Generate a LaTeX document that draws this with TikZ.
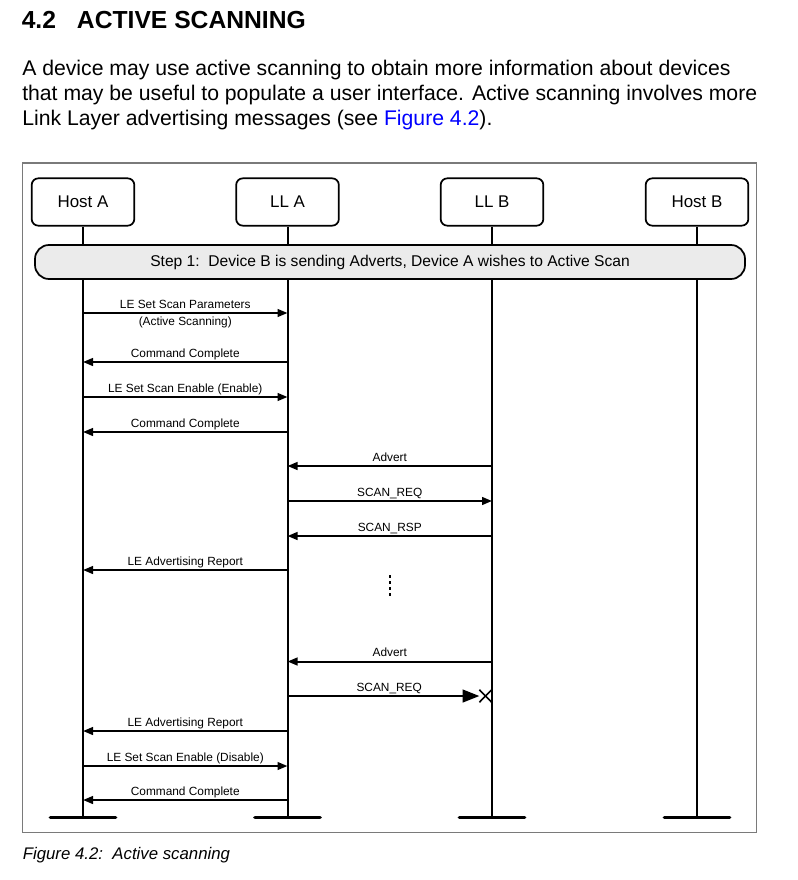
\documentclass[tikz,border=0pt]{standalone}
\usepackage{fontspec}
\setmainfont{Liberation Sans}
\usetikzlibrary{arrows.meta}
\definecolor{framegray}{HTML}{7A7A7A}
\definecolor{stepfill}{HTML}{EBEBEB}
\definecolor{linkblue}{HTML}{0000FF}
% one message between two lifelines: from, to, y, label
\newcommand\seqmsg[4]{%
  \draw[msgline] (#1 |- 0,#3) -- (#2 |- 0,#3)
    node[msglabel,midway,yshift=3.4pt] {#4};}
\begin{document}
\begin{tikzpicture}[x=0.75pt,y=-0.75pt,
  txt/.style={inner sep=0pt,anchor=base west},
  bodytext/.style={txt,font=\fontsize{15.9}{19}\selectfont},
  actor/.style={draw,line width=1.3pt,rounded corners=5pt,fill=white,
    minimum width=77pt,minimum height=35.5pt,inner sep=0pt,
    font=\fontsize{12.7}{15}\selectfont},
  life/.style={line width=1.5pt},
  endbar/.style={line width=2.6pt,line cap=round},
  msgline/.style={line width=1.5pt,-{Triangle[length=7.5pt,width=5.8pt]}},
  lostline/.style={line width=1.5pt,-{Triangle[length=12.5pt,width=9.5pt]}},
  msglabel/.style={font=\fontsize{8.9}{10}\selectfont,inner sep=0pt,anchor=base},
  stepbox/.style={draw,line width=1.3pt,rounded corners=10.5pt,fill=stepfill,
    minimum width=532.5pt,minimum height=25.5pt,inner sep=0pt,
    font=\fontsize{11.7}{14}\selectfont},
  ]
\useasboundingbox (0,0) rectangle (798,880);

% heading and paragraph
\node[txt,font=\bfseries\fontsize{18.5}{22}\selectfont] (secnum) at (21.5,28.3) {4.2};
\node[txt,font=\bfseries\fontsize{18.5}{22}\selectfont] (sectitle) at (76.7,28.3) {ACTIVE SCANNING};
\node[bodytext] (para1) at (22,76)
  {A device may use active scanning to obtain more information about devices};
\node[bodytext] (para2) at (22,101)
  {that may be useful to populate a user interface. Active scanning involves more};
\node[bodytext] (para3) at (22,126)
  {Link Layer advertising messages (see \textcolor{linkblue}{Figure 4.2}).};

% figure frame
\draw[framegray,line width=1.1pt] (22.5,163) rectangle (756.5,832.5);

% participants
\node[actor] (hA) at (83,202) {Host A};
\node[actor] (lA) at (287.5,202) {LL A};
\node[actor] (lB) at (492,202) {LL B};
\node[actor] (hB) at (697,202) {Host B};

% lifelines and their end bars
\foreach \p in {hA,lA,lB,hB}{
  \coordinate (\p end) at (\p |- 0,817.5);
  \draw[life] (\p.south) -- (\p end);
  \draw[endbar] ([xshift=-24.5pt]\p end) -- ([xshift=24.5pt]\p end);
}

% step banner
\node[stepbox] (step) at (390,262) {Step 1:\ \ Device B is sending Adverts, Device A wishes to Active Scan};

% messages
\draw[msgline] (hA |- 0,313) -- (lA |- 0,313)
  node[msglabel,midway,yshift=3.4pt] {LE Set Scan Parameters}
  node[msglabel,midway,yshift=-9.5pt] {(Active Scanning)};
\seqmsg{lA}{hA}{362}{Command Complete}
\seqmsg{hA}{lA}{397}{LE Set Scan Enable (Enable)}
\seqmsg{lA}{hA}{432}{Command Complete}
\seqmsg{lB}{lA}{466}{Advert}
\seqmsg{lA}{lB}{501}{SCAN\_REQ}
\seqmsg{lB}{lA}{536}{SCAN\_RSP}
\seqmsg{lA}{hA}{570}{LE Advertising Report}

% continuation dots
\coordinate (gaptop) at (390,575);
\coordinate (gapbot) at (390,598);
\draw[line width=1.5pt,dash pattern=on 2.3pt off 2.2pt] (gaptop) -- (gapbot);

\seqmsg{lB}{lA}{661.5}{Advert}

% lost scan request
\coordinate (lost) at (485.5,696);
\draw[lostline] (lA |- 0,696) -- ([xshift=-4.6pt]lost)
  node[msglabel,pos=0.53,yshift=3.4pt] {SCAN\_REQ};
\draw[line width=1.2pt] ([shift={(-4.6pt,-4.7pt)}]lost) -- ([shift={(4.6pt,4.7pt)}]lost);
\draw[line width=1.2pt] ([shift={(-4.6pt,4.7pt)}]lost) -- ([shift={(4.6pt,-4.7pt)}]lost);

\seqmsg{lA}{hA}{731}{LE Advertising Report}
\seqmsg{hA}{lA}{766}{LE Set Scan Enable (Disable)}
\seqmsg{lA}{hA}{800}{Command Complete}

% caption
\node[txt,font=\itshape\fontsize{12.6}{15}\selectfont] (caption) at (22.5,859)
  {Figure 4.2:\ \ Active scanning};
\end{tikzpicture}
\end{document}
